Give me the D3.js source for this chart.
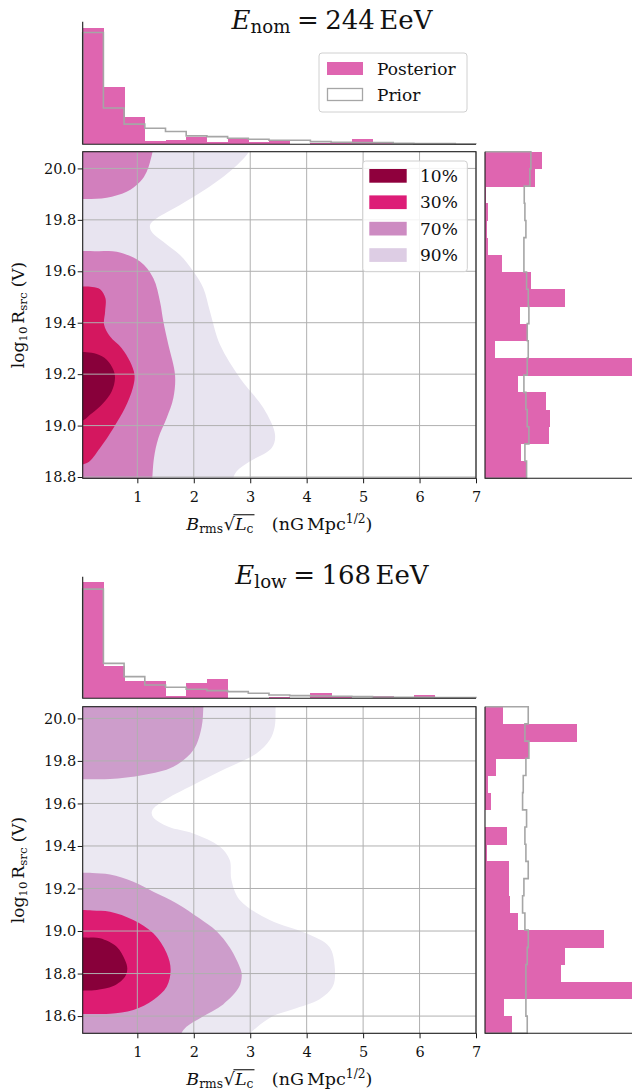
<!DOCTYPE html>
<html>
<head>
<meta charset="utf-8">
<script src="https://cdn.jsdelivr.net/npm/d3@7"></script>
<style>
  body { margin: 0; background: #fff; }
  svg { display: block; }
  text { font-family: "DejaVu Serif", serif; fill: #111; white-space: pre; }
</style>
</head>
<body>
<svg id="fig" width="632" height="1091"></svg>
<script>
// ---------------- data ----------------
const levelLabels = ["10%", "30%", "70%", "90%"];
const xTickValues = [1, 2, 3, 4, 5, 6, 7];
const nomYTickValues = [18.8, 19.0, 19.2, 19.4, 19.6, 19.8, 20.0];
const lowYTickValues = [18.6, 18.8, 19.0, 19.2, 19.4, 19.6, 19.8, 20.0];

// sample ranges spanned by the histogram bins
const brmsRange = [0.032, 7.0];
const nomRsrcRange = [18.795, 20.065];
const lowRsrcRange = [18.519, 20.055];

// B_rms sqrt(L_c) marginals (19 bins, left to right)
const nomBrmsPosterior = [3.48, 1.71, 0.81, 0.10, 0.13, 0.22, 0.07, 0.19, 0.07, 0.12, 0.00, 0.05, 0.07, 0.16, 0.03, 0.01, 0.00, 0.01, 0.00];
const nomBrmsPrior     = [3.33, 1.08, 0.60, 0.48, 0.38, 0.25, 0.23, 0.18, 0.15, 0.12, 0.12, 0.08, 0.06, 0.05, 0.05, 0.03, 0.02, 0.02, 0.01];
const lowBrmsPosterior = [3.48, 0.97, 0.53, 0.52, 0.07, 0.47, 0.58, 0.00, 0.00, 0.04, 0.00, 0.16, 0.07, 0.00, 0.07, 0.00, 0.10, 0.03, 0.00];
const lowBrmsPrior     = [3.28, 1.05, 0.65, 0.40, 0.33, 0.27, 0.23, 0.20, 0.15, 0.10, 0.08, 0.07, 0.06, 0.05, 0.04, 0.03, 0.03, 0.02, 0.02];

// log10 R_src marginals (19 bins, low to high)
const nomRsrcPosterior = [1.25, 1.08, 1.92, 1.95, 1.83, 1.00, 4.42, 0.30, 1.27, 1.05, 2.40, 1.38, 0.51, 0.09, 0.05, 0.09, 0.02, 1.50, 1.70];
const nomRsrcPrior     = [1.25, 1.20, 1.32, 1.27, 1.23, 1.17, 1.27, 1.30, 1.27, 1.32, 1.30, 1.25, 1.17, 1.17, 1.23, 1.20, 1.18, 1.35, 1.38];
const lowRsrcPosterior = [0.81, 0.57, 4.42, 2.28, 2.40, 3.57, 0.98, 0.75, 0.72, 0.72, 0.05, 0.65, 0.00, 0.18, 0.08, 0.33, 1.32, 2.78, 0.53];
const lowRsrcPrior     = [1.27, 1.23, 1.23, 1.23, 1.27, 1.30, 1.20, 1.13, 1.17, 1.30, 1.23, 1.20, 1.25, 1.13, 1.15, 1.23, 1.32, 1.20, 1.30];

// credible-region outlines [B_rms sqrt(L_c), log10 R_src]
const nomRegion90 = [[3.02, 20.10], [2.967, 20.062], [2.70, 20.0], [2.23, 19.922], [1.756, 19.858], [1.343, 19.806],
  [1.225, 19.78], [1.254, 19.754], [1.46, 19.715], [1.756, 19.663], [1.993, 19.599], [2.17, 19.534], [2.288, 19.443],
  [2.465, 19.314], [2.82, 19.184], [3.234, 19.068], [3.44, 18.964], [3.38, 18.913], [2.997, 18.861], [2.76, 18.822],
  [2.70, 18.796], [2.68, 18.77]];
const nomRegion70a = [[1.30, 20.10], [1.27, 20.065], [1.166, 19.987], [1.048, 19.948], [0.81, 19.909], [0.457, 19.886],
  [0.10, 19.881], [-0.10, 19.881]];
const nomRegion70b = [[-0.10, 19.679], [0.30, 19.678], [0.635, 19.676], [1.048, 19.638], [1.284, 19.573], [1.402, 19.482],
  [1.461, 19.405], [1.55, 19.314], [1.668, 19.197], [1.638, 19.107], [1.52, 19.029], [1.372, 18.951], [1.295, 18.874],
  [1.266, 18.796], [1.26, 18.77]];
const nomRegion30 = [[-0.10, 19.54], [0.20, 19.539], [0.34, 19.530], [0.435, 19.495], [0.429, 19.443], [0.411, 19.392],
  [0.517, 19.346], [0.723, 19.301], [0.87, 19.249], [0.95, 19.197], [0.92, 19.146], [0.781, 19.068], [0.575, 18.99],
  [0.339, 18.913], [0.115, 18.855], [-0.10, 18.845]];
const nomRegion10 = [[-0.10, 19.286], [0.10, 19.285], [0.28, 19.278], [0.457, 19.256], [0.575, 19.217], [0.604, 19.184],
  [0.545, 19.133], [0.338, 19.074], [0.161, 19.042], [0.05, 19.022], [-0.10, 19.019]];

const lowRegion90 = [[3.46, 20.10], [3.45, 20.055], [3.434, 19.961], [3.345, 19.898], [3.109, 19.835], [2.578, 19.765],
  [1.988, 19.687], [1.45, 19.61], [1.26, 19.565], [1.28, 19.535], [1.55, 19.49], [1.988, 19.459], [2.46, 19.397],
  [2.637, 19.334], [2.667, 19.24], [2.814, 19.146], [3.345, 19.052], [3.994, 18.989], [4.40, 18.926], [4.496, 18.835],
  [4.466, 18.741], [4.23, 18.679], [3.758, 18.632], [3.404, 18.60], [3.109, 18.545], [2.99, 18.514], [2.97, 18.48]];
const lowRegion70a = [[2.18, 20.10], [2.17, 20.055], [2.14, 19.961], [1.993, 19.851], [1.638, 19.773], [1.107, 19.734],
  [0.516, 19.715], [0.10, 19.714], [-0.10, 19.714]];
const lowRegion70b = [[-0.10, 19.274], [0.20, 19.273], [0.516, 19.266], [0.929, 19.232], [1.283, 19.185], [1.70, 19.13],
  [2.10, 19.06], [2.40, 19.0], [2.643, 18.92], [2.83, 18.82], [2.85, 18.79], [2.80, 18.735], [2.52, 18.655],
  [2.14, 18.595], [1.87, 18.55], [1.78, 18.519], [1.76, 18.49]];
const lowRegion30 = [[-0.10, 19.099], [0.20, 19.097], [0.516, 19.091], [0.929, 19.052], [1.283, 18.989], [1.52, 18.895],
  [1.59, 18.817], [1.52, 18.738], [1.283, 18.676], [0.929, 18.629], [0.516, 18.611], [0.20, 18.610], [-0.10, 18.610]];
const lowRegion10 = [[-0.10, 18.970], [0.10, 18.969], [0.34, 18.966], [0.634, 18.926], [0.781, 18.864], [0.822, 18.824],
  [0.781, 18.785], [0.575, 18.741], [0.28, 18.723], [0.10, 18.720], [-0.10, 18.719]];

// ---------------- styling ----------------
const histPink = "#df65b0";
const priorGrey = "#a6a6a6";
const gridGrey = "#b0b0b0";
const spineCol = "#1a1a1a";
const legendLevelColors = ["#8f003d", "#dd1c77", "#cd8bc2", "#ddcde4"];

const svg = d3.select("#fig");

// lays out a run of text pieces (italic / sub / sup) horizontally
function richText(parent, pieces, size, anchor) {
  const grp = parent.append("g");
  let cx = 0;
  const placed = [];
  pieces.forEach(p => {
    if (p.gap) { cx += p.gap * size; return; }
    const fs = size * (p.sub || p.sup ? 0.7 : 1);
    const dy = p.sub ? size * 0.17 : p.sup ? -size * 0.4 : 0;
    const t = grp.append("text")
      .attr("x", cx).attr("y", dy)
      .attr("font-size", fs)
      .attr("font-style", p.it ? "italic" : "normal")
      .text(p.t);
    const w = t.node().getComputedTextLength();
    placed.push({ x0: cx, x1: cx + w, p });
    cx += w + (p.after || 0) * size;
  });
  const off = anchor === "middle" ? -cx / 2 : anchor === "end" ? -cx : 0;
  grp.selectAll("text").attr("x", function () { return +this.getAttribute("x") + off; });
  placed.forEach(d => { d.x0 += off; d.x1 += off; });
  return { grp, placed, width: cx };
}

function xLabel(parent, cx, cy) {
  const size = 17.5;
  const g = parent.append("g").attr("transform", `translate(${cx},${cy})`);
  const r = richText(g, [
    { t: "B", it: true }, { t: "rms", sub: true, after: 0.05 },
    { t: "\u221A" },
    { t: "L", it: true, ovl: true }, { t: "c", sub: true, ovl: true },
    { gap: 1.05 },
    { t: "(nG", after: 0.17 }, { t: "Mpc" }, { t: "1/2", sup: true }, { t: ")" }
  ], size, "middle");
  const ov = r.placed.filter(d => d.p.ovl);
  const sq = r.placed.find(d => d.p.t === "\u221A");
  g.append("line")
    .attr("x1", sq.x1 - 1.5).attr("x2", ov[ov.length - 1].x1 + 1)
    .attr("y1", -size * 0.86).attr("y2", -size * 0.86)
    .attr("stroke", "#111").attr("stroke-width", 1.1);
}

function yLabel(parent, cx, cy) {
  const g = parent.append("g").attr("transform", `translate(${cx},${cy}) rotate(-90)`);
  richText(g, [
    { t: "log" }, { t: "10", sub: true, after: 0.17 },
    { t: "R" }, { t: "src", sub: true, after: 0.3 },
    { t: "(V)" }
  ], 17, "middle");
}

function title(parent, cx, cy, sub, value) {
  const g = parent.append("g").attr("transform", `translate(${cx},${cy})`);
  richText(g, [
    { t: "E", it: true }, { t: sub, sub: true, after: 0.25 },
    { t: "=", after: 0.25 }, { t: value, after: 0.17 }, { t: "EeV" }
  ], 26, "middle");
}

function regionPath(pts, corners, sx, sy, box) {
  const line = d3.line().x(d => sx(d[0])).y(d => sy(d[1])).curve(d3.curveCatmullRom.alpha(0.5));
  const pad = 40;
  const cornerPx = {
    TL: [box.x0 - pad, box.y0 - pad], BL: [box.x0 - pad, box.y1 + pad],
    TR: [box.x1 + pad, box.y0 - pad], BR: [box.x1 + pad, box.y1 + pad]
  };
  let d = line(pts);
  corners.forEach(c => { d += "L" + cornerPx[c].join(","); });
  return d + "Z";
}

function binEdges(range, n) {
  return d3.range(n + 1).map(i => range[0] + (range[1] - range[0]) * i / n);
}

let clipId = 0;

function drawPanel(cfg) {
  const box = cfg.main;
  const sx = d3.scaleLinear().domain(brmsRange).range([box.x0, box.x1]);
  const sy = d3.scaleLinear().domain(cfg.rsrcRange).range([box.y1, box.y0]);
  const g = svg.append("g");

  // ---- credible regions ----
  const cid = "clip" + (clipId++);
  g.append("clipPath").attr("id", cid).append("rect")
    .attr("x", box.x0).attr("y", box.y0).attr("width", box.x1 - box.x0).attr("height", box.y1 - box.y0);
  const cg = g.append("g").attr("clip-path", `url(#${cid})`);
  cfg.regions.forEach(r => {
    cg.append("path").attr("d", regionPath(r.pts, r.corners, sx, sy, box)).attr("fill", r.color);
  });

  // ---- grid ----
  const gg = g.append("g").attr("stroke", gridGrey).attr("stroke-width", 1);
  xTickValues.forEach(v => gg.append("line").attr("x1", sx(v)).attr("x2", sx(v)).attr("y1", box.y0).attr("y2", box.y1));
  cfg.yTicks.forEach(v => gg.append("line").attr("x1", box.x0).attr("x2", box.x1).attr("y1", sy(v)).attr("y2", sy(v)));

  // ---- axes ----
  const xAxis = d3.axisBottom(sx).tickValues(xTickValues).tickFormat(d3.format("d")).tickSize(5).tickPadding(8.5);
  const yAxis = d3.axisLeft(sy).tickValues(cfg.yTicks).tickFormat(d3.format(".1f")).tickSize(5).tickPadding(1.5);
  const xa = g.append("g").attr("transform", `translate(0,${box.y1})`).call(xAxis);
  const ya = g.append("g").attr("transform", `translate(${box.x0},0)`).call(yAxis);
  [xa, ya].forEach(a => {
    a.select(".domain").remove();
    a.selectAll(".tick line").attr("stroke", spineCol).attr("stroke-width", 1);
    a.selectAll(".tick text").attr("font-size", 14.5).attr("font-family", "DejaVu Serif").attr("fill", "#111");
  });
  g.append("rect").attr("x", box.x0).attr("y", box.y0)
    .attr("width", box.x1 - box.x0).attr("height", box.y1 - box.y0)
    .attr("fill", "none").attr("stroke", spineCol).attr("stroke-width", 1.1);

  xLabel(g, (box.x0 + box.x1) / 2, box.y1 + 51.5);
  yLabel(g, 24, (box.y0 + box.y1) / 2);

  // ---- top marginal: B_rms sqrt(L_c) ----
  const top = cfg.top;
  const xEdges = binEdges(brmsRange, cfg.brmsPost.length);
  const tmax = d3.max(cfg.brmsPost.concat(cfg.brmsPrior)) * 1.05;
  const ty = d3.scaleLinear().domain([0, tmax]).range([top.y1, top.y0]);
  g.append("g").attr("shape-rendering", "crispEdges").selectAll("rect").data(cfg.brmsPost).join("rect")
    .attr("x", (d, i) => sx(xEdges[i])).attr("width", (d, i) => sx(xEdges[i + 1]) - sx(xEdges[i]) + 0.5)
    .attr("y", d => ty(d)).attr("height", d => ty(0) - ty(d)).attr("fill", histPink);
  let p = `M${sx(xEdges[0])},${ty(0)}`;
  cfg.brmsPrior.forEach((v, i) => { p += `L${sx(xEdges[i])},${ty(v)}L${sx(xEdges[i + 1])},${ty(v)}`; });
  p += `L${sx(xEdges[xEdges.length - 1])},${ty(0)}`;
  g.append("path").attr("d", p).attr("fill", "none").attr("stroke", priorGrey).attr("stroke-width", 1.6);
  g.append("path").attr("d", `M${top.x0},${top.y0}V${top.y1}H${box.x1}`)
    .attr("fill", "none").attr("stroke", spineCol).attr("stroke-width", 1.1);

  // ---- right marginal: log10 R_src ----
  const rt = cfg.right;
  const yEdges = binEdges(cfg.rsrcRange, cfg.rsrcPost.length);
  const rx = d3.scaleLinear().domain([0, d3.max(cfg.rsrcPost)]).range([rt.x0, rt.x1]);
  g.append("g").attr("shape-rendering", "crispEdges").selectAll("rect").data(cfg.rsrcPost).join("rect")
    .attr("y", (d, i) => sy(yEdges[i + 1])).attr("height", (d, i) => sy(yEdges[i]) - sy(yEdges[i + 1]) + 0.5)
    .attr("x", rx(0)).attr("width", d => rx(d) - rx(0)).attr("fill", histPink);
  let q = `M${rx(0)},${sy(yEdges[0])}`;
  cfg.rsrcPrior.forEach((v, i) => { q += `L${rx(v)},${sy(yEdges[i])}L${rx(v)},${sy(yEdges[i + 1])}`; });
  q += `L${rx(0)},${sy(yEdges[yEdges.length - 1])}`;
  g.append("path").attr("d", q).attr("fill", "none").attr("stroke", priorGrey).attr("stroke-width", 1.6);
  g.append("path").attr("d", `M${rt.x0},${box.y0}V${box.y1}H${rt.x1 + 5}`)
    .attr("fill", "none").attr("stroke", spineCol).attr("stroke-width", 1.1);

  title(g, 332, cfg.titleY, cfg.titleSub, cfg.titleValue);
  return g;
}

function legendBox(g, x, y, w, h) {
  g.append("rect").attr("x", x).attr("y", y).attr("width", w).attr("height", h)
    .attr("rx", 3).attr("fill", "#fff").attr("fill-opacity", 0.85)
    .attr("stroke", "#d0d0d0").attr("stroke-width", 1);
}

// ---------------- panels ----------------
const nomColors = ["#88003a", "#d4175f", "#d27fbd", "#e8e4f0"];
const lowColors = ["#88003a", "#dd1c72", "#cd9dcb", "#ebe8f2"];

drawPanel({
  main: { x0: 82.7, x1: 476, y0: 151.7, y1: 478.3 },
  top: { x0: 82.7, y0: 21.7, y1: 144.3 },
  right: { x0: 485, x1: 632 },
  rsrcRange: nomRsrcRange, yTicks: nomYTickValues,
  brmsPost: nomBrmsPosterior, brmsPrior: nomBrmsPrior,
  rsrcPost: nomRsrcPosterior, rsrcPrior: nomRsrcPrior,
  titleY: 29, titleSub: "nom", titleValue: "244",
  regions: [
    { pts: nomRegion90, corners: ["BL", "TL"], color: nomColors[3] },
    { pts: nomRegion70a, corners: ["TL"], color: nomColors[2] },
    { pts: nomRegion70b, corners: ["BL"], color: nomColors[2] },
    { pts: nomRegion30, corners: [], color: nomColors[1] },
    { pts: nomRegion10, corners: [], color: nomColors[0] }
  ]
});

drawPanel({
  main: { x0: 82.7, x1: 476, y0: 706.7, y1: 1033.3 },
  top: { x0: 82.7, y0: 576.7, y1: 698.3 },
  right: { x0: 485, x1: 632 },
  rsrcRange: lowRsrcRange, yTicks: lowYTickValues,
  brmsPost: lowBrmsPosterior, brmsPrior: lowBrmsPrior,
  rsrcPost: lowRsrcPosterior, rsrcPrior: lowRsrcPrior,
  titleY: 584, titleSub: "low", titleValue: "168",
  regions: [
    { pts: lowRegion90, corners: ["BL", "TL"], color: lowColors[3] },
    { pts: lowRegion70a, corners: ["TL"], color: lowColors[2] },
    { pts: lowRegion70b, corners: ["BL"], color: lowColors[2] },
    { pts: lowRegion30, corners: [], color: lowColors[1] },
    { pts: lowRegion10, corners: [], color: lowColors[0] }
  ]
});

// ---------------- legends ----------------
const lg1 = svg.append("g");
legendBox(lg1, 319, 53, 148, 59);
lg1.append("rect").attr("x", 327).attr("y", 62).attr("width", 36).attr("height", 13).attr("fill", histPink);
lg1.append("rect").attr("x", 327.5).attr("y", 88.5).attr("width", 35).attr("height", 12)
  .attr("fill", "#fff").attr("stroke", priorGrey).attr("stroke-width", 1.3);
lg1.append("text").attr("x", 377).attr("y", 75).attr("font-size", 17).text("Posterior");
lg1.append("text").attr("x", 377).attr("y", 101).attr("font-size", 17).text("Prior");

const lg2 = svg.append("g");
legendBox(lg2, 362.7, 161, 104.6, 110.7);
lg2.selectAll("rect.sw").data(levelLabels).join("rect").attr("class", "sw")
  .attr("x", 369.3).attr("y", (d, i) => 169 + i * 26.4).attr("width", 37.4).attr("height", 13.7)
  .attr("fill", (d, i) => legendLevelColors[i]);
lg2.selectAll("text").data(levelLabels).join("text")
  .attr("x", 420).attr("y", (d, i) => 182 + i * 26.4).attr("font-size", 17).text(d => d);
</script>
</body>
</html>
